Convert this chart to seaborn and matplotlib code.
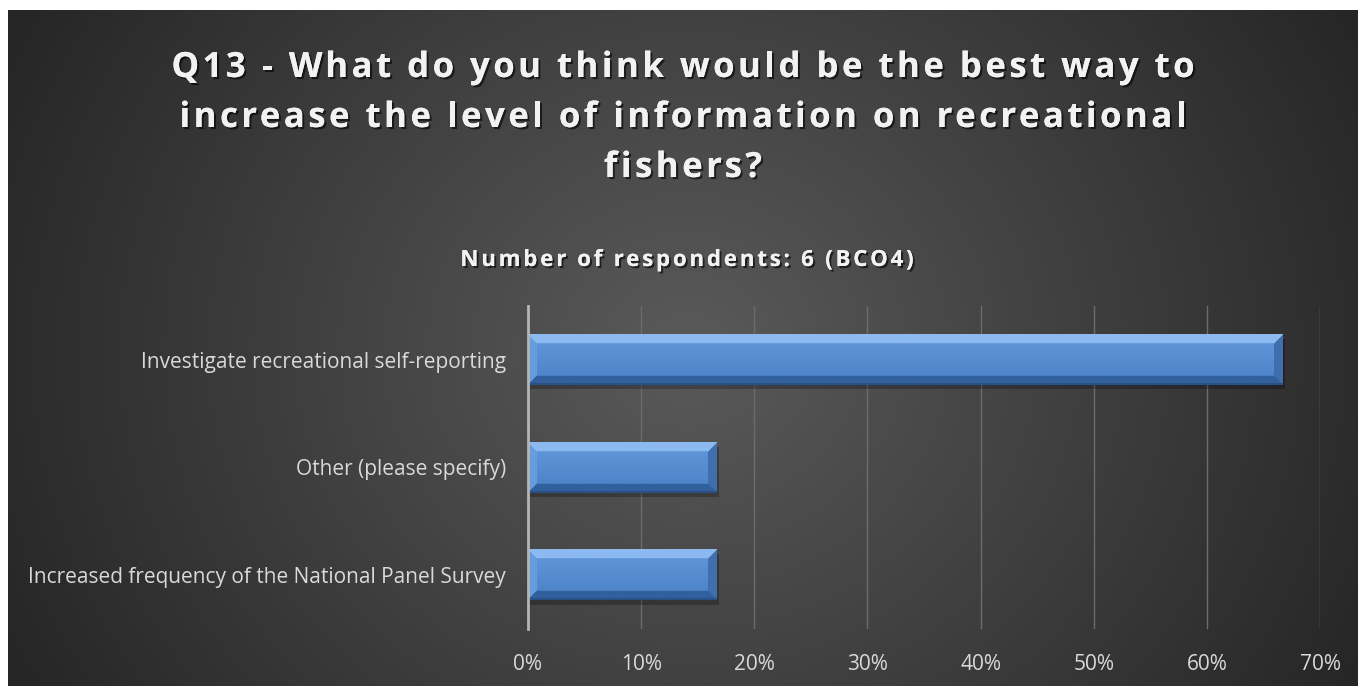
import numpy as np
import matplotlib
matplotlib.use("Agg")
import matplotlib.pyplot as plt
import matplotlib.patheffects as pe
from matplotlib.patches import Rectangle
from matplotlib.ticker import PercentFormatter
from matplotlib.colors import to_rgb
import seaborn as sns

# data (6 respondents)
categories = [
    "Investigate recreational self-reporting",
    "Other (please specify)",
    "Increased frequency of the National Panel Survey",
]
shares = [4 / 6, 1 / 6, 1 / 6]
x_ticks = [0, 0.1, 0.2, 0.3, 0.4, 0.5, 0.6, 0.7]

title_lines = [
    "Q13 - What do you think would be the best way to",
    "increase the level of information on recreational",
    "fishers?",
]
subtitle = "Number of respondents: 6 (BCO4)"

sns.set_theme(style="white")
plt.rcParams["font.family"] = ["Open Sans", "DejaVu Sans"]

W, H = 1358, 686
fig = plt.figure(figsize=(W / 100, H / 100), dpi=100, facecolor="white")
renderer = fig.canvas.get_renderer()


def tracked_text(s, xc, baseline, track, **kw):
    """draw s centred at xc (px) with extra letter spacing (px)"""
    ref = fig.text(0, 0, "aa", **kw)
    w_aa = ref.get_window_extent(renderer).width
    ref.remove()
    widths = []
    for ch in s:
        t = fig.text(0, 0, "a" + ch + "a", **kw)
        widths.append(t.get_window_extent(renderer).width - w_aa)
        t.remove()
    total = sum(widths) + track * (len(s) - 1)
    x = xc - total / 2
    for ch, w in zip(s, widths):
        if ch != " ":
            fig.text(x / W, 1 - baseline / H, ch, ha="left", va="baseline", **kw)
        x += w + track


# radial dark-grey background, white margin on top/left
bg = fig.add_axes([8 / W, 0, 1 - 8 / W, (H - 10) / H])
yy, xx = np.mgrid[0:H - 10, 0:W - 8]
r = np.hypot(xx - 680, (yy - 340) * 1.1)
val = (0x5a - (0x5a - 0x26) * np.clip(r / 760, 0, 1)) / 255
bg.imshow(np.dstack([val, val, val]), aspect="auto", interpolation="bilinear")
bg.set_axis_off()

ax = fig.add_axes([528 / W, (H - 629) / H, (1320 - 528) / W, (629 - 306) / H])
ax.set_facecolor("none")

sns.barplot(x=shares, y=categories, orient="h", color="#4f86c9",
            width=0.47, ax=ax, zorder=3)

ax.set_xlim(0, 0.7)
ax.set_ylim(2.5, -0.5)
fig.canvas.draw()

# bevelled look for each bar
face_top = np.array(to_rgb("#6399dc"))
face_bot = np.array(to_rgb("#4a81c6"))
top_c = np.array(to_rgb("#8cbaf0"))
left_c = np.array(to_rgb("#679ddf"))
right_c = np.array(to_rgb("#3f6fae"))
bot_c = np.array(to_rgb("#31609d"))
for p in list(ax.patches):
    x0, y0, w, h = p.get_x(), p.get_y(), p.get_width(), p.get_height()
    (px0, py0), (px1, py1) = ax.transData.transform([(x0, y0), (x0 + w, y0 + h)])
    pw, ph = int(abs(px1 - px0)), int(abs(py1 - py0))
    rr, cc = np.mgrid[0:ph, 0:pw]
    t = (rr / max(ph - 1, 1))[..., None]
    img = face_top * (1 - t) + face_bot * t
    b = 9
    d_top, d_bot, d_left, d_right = rr, ph - 1 - rr, cc, pw - 1 - cc
    dmin = np.minimum.reduce([d_top, d_bot, d_left, d_right])
    edge = dmin < b
    img[edge & (d_left == dmin)] = left_c
    img[edge & (d_right == dmin)] = right_c
    img[edge & (d_bot == dmin)] = bot_c
    img[edge & (d_top == dmin)] = top_c
    img[d_bot < 2] = bot_c * 0.85
    # drop shadow
    ax.add_patch(Rectangle((x0 + 0.002, y0 + 0.04), w, h, color="black",
                           alpha=0.25, lw=0, zorder=2))
    ax.imshow(img, extent=(x0, x0 + w, y0 + h, y0), aspect="auto",
              zorder=4, interpolation="bilinear")
    p.set_alpha(0)

ax.set_xlim(0, 0.7)
ax.set_ylim(2.5, -0.5)
ax.set_xticks(x_ticks)
ax.xaxis.set_major_formatter(PercentFormatter(1.0, decimals=0))
ax.xaxis.grid(True, color="#6c6c6c", lw=1)
ax.yaxis.grid(False)
ax.set_axisbelow(True)
for s in ["top", "right", "bottom"]:
    ax.spines[s].set_visible(False)
ax.spines["left"].set_color("#b5b5b5")
ax.spines["left"].set_linewidth(2)
ax.spines["left"].set_zorder(5)
ax.tick_params(axis="x", length=0, pad=18, labelsize=15, labelcolor="#d9d9d9")
ax.tick_params(axis="y", length=0, pad=16, labelsize=15, labelcolor="#d9d9d9")
ax.set_xlabel("")
ax.set_ylabel("")

shadow = [pe.withSimplePatchShadow(offset=(1.5, -1.5), shadow_rgbFace="black", alpha=0.6), pe.Normal()]
for line, base in zip(title_lines, [77, 127, 177]):
    tracked_text(line, 683, base, 3.5, color="#f2f2f2", fontsize=25,
                 fontweight="bold", path_effects=shadow)
tracked_text(subtitle, 687, 266, 2.8, color="#f2f2f2", fontsize=16,
             fontweight="bold", path_effects=shadow)

fig.savefig("out.png", dpi=100, facecolor="white")
